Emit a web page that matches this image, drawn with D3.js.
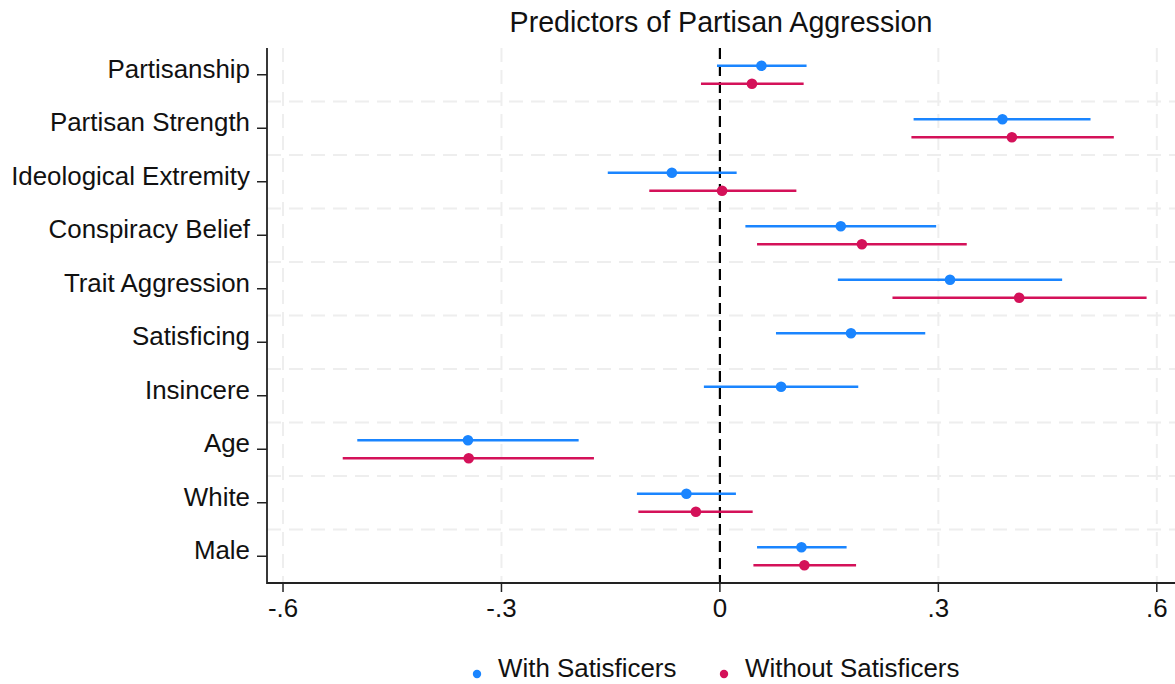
<!DOCTYPE html>
<html>
<head>
<meta charset="utf-8">
<script src="https://cdn.jsdelivr.net/npm/d3@7"></script>
<style>
  html, body { margin: 0; padding: 0; background: #fff; }
  svg { display: block; font-family: "Liberation Sans", Arial, sans-serif; }
</style>
</head>
<body>
<div id="chart"></div>
<script>
// Predictors (top to bottom)
const predictors = ['Partisanship', 'Partisan Strength', 'Ideological Extremity', 'Conspiracy Belief',
  'Trait Aggression', 'Satisficing', 'Insincere', 'Age', 'White', 'Male'];

// With Satisficers: estimate, lower CI, upper CI
const withEst = [0.057, 0.388, -0.066, 0.166, 0.316, 0.180, 0.084, -0.346, -0.046, 0.112];
const withLo  = [-0.004, 0.266, -0.154, 0.035, 0.162, 0.077, -0.022, -0.498, -0.114, 0.051];
const withHi  = [0.119, 0.509, 0.023, 0.297, 0.470, 0.282, 0.190, -0.194, 0.022, 0.174];

// Without Satisficers (no Satisficing / Insincere terms)
const withoutEst = [0.044, 0.401, 0.003, 0.195, 0.411, null, null, -0.345, -0.033, 0.116];
const withoutLo  = [-0.026, 0.263, -0.097, 0.051, 0.237, null, null, -0.518, -0.112, 0.046];
const withoutHi  = [0.115, 0.541, 0.105, 0.339, 0.586, null, null, -0.173, 0.045, 0.187];

const xTicks = [-0.6, -0.3, 0, 0.3, 0.6];
const xTickLabels = ['-.6', '-.3', '0', '.3', '.6'];

const seriesNames = ['With Satisficers', 'Without Satisficers'];
const seriesColors = ['#1a85ff', '#d41159'];

const width = 1175, height = 684;
const plot = { left: 267, right: 1175, top: 48, bottom: 583 };

const svg = d3.select('#chart').append('svg')
  .attr('width', width)
  .attr('height', height);

const x = d3.scaleLinear()
  .domain([-0.622, 0.625])
  .range([plot.left, plot.right]);

const y = d3.scaleBand()
  .domain(predictors)
  .range([plot.top, plot.bottom]);

const offset = 9;

// Grid
const grid = svg.append('g');
grid.selectAll('line.hgrid')
  .data(predictors.slice(1))
  .join('line')
  .attr('x1', plot.left).attr('x2', plot.right)
  .attr('y1', d => y(d)).attr('y2', d => y(d))
  .attr('stroke', '#eeeeee')
  .attr('stroke-width', 2)
  .attr('stroke-dasharray', '14 8');

grid.selectAll('line.vgrid')
  .data(xTicks.filter(d => d !== 0))
  .join('line')
  .attr('x1', d => x(d)).attr('x2', d => x(d))
  .attr('y1', plot.top).attr('y2', plot.bottom)
  .attr('stroke', '#eeeeee')
  .attr('stroke-width', 2)
  .attr('stroke-dasharray', '14 8');

// Zero reference line
svg.append('line')
  .attr('x1', x(0)).attr('x2', x(0))
  .attr('y1', plot.top).attr('y2', plot.bottom)
  .attr('stroke', '#000')
  .attr('stroke-width', 2.2)
  .attr('stroke-dasharray', '11 6');

// Series
const series = [
  { est: withEst, lo: withLo, hi: withHi, dy: -offset },
  { est: withoutEst, lo: withoutLo, hi: withoutHi, dy: offset }
];

series.forEach((s, si) => {
  const rows = predictors.map((p, i) => ({ p, est: s.est[i], lo: s.lo[i], hi: s.hi[i] }))
    .filter(d => d.est !== null);
  const g = svg.append('g');
  g.selectAll('line')
    .data(rows)
    .join('line')
    .attr('x1', d => x(d.lo)).attr('x2', d => x(d.hi))
    .attr('y1', d => y(d.p) + y.bandwidth() / 2 + s.dy)
    .attr('y2', d => y(d.p) + y.bandwidth() / 2 + s.dy)
    .attr('stroke', seriesColors[si])
    .attr('stroke-width', 2.3);
  g.selectAll('circle')
    .data(rows)
    .join('circle')
    .attr('cx', d => x(d.est))
    .attr('cy', d => y(d.p) + y.bandwidth() / 2 + s.dy)
    .attr('r', 5.3)
    .attr('fill', seriesColors[si]);
});

// Axes
const axisColor = '#222';
svg.append('line')
  .attr('x1', plot.left).attr('x2', plot.left)
  .attr('y1', plot.top).attr('y2', plot.bottom + 1)
  .attr('stroke', axisColor).attr('stroke-width', 1.8);
svg.append('line')
  .attr('x1', plot.left).attr('x2', plot.right)
  .attr('y1', plot.bottom).attr('y2', plot.bottom)
  .attr('stroke', axisColor).attr('stroke-width', 1.8);

// Y ticks and labels
const yAxis = svg.append('g');
yAxis.selectAll('line')
  .data(predictors)
  .join('line')
  .attr('x1', plot.left - 10).attr('x2', plot.left)
  .attr('y1', d => y(d) + y.bandwidth() / 2)
  .attr('y2', d => y(d) + y.bandwidth() / 2)
  .attr('stroke', axisColor).attr('stroke-width', 1.5);
yAxis.selectAll('text')
  .data(predictors)
  .join('text')
  .attr('x', plot.left - 17)
  .attr('y', d => y(d) + y.bandwidth() / 2 + 3)
  .attr('text-anchor', 'end')
  .attr('font-size', 25.9)
  .attr('fill', '#111')
  .text(d => d);

// X ticks and labels
const xAxis = svg.append('g');
xAxis.selectAll('line')
  .data(xTicks)
  .join('line')
  .attr('x1', d => x(d)).attr('x2', d => x(d))
  .attr('y1', plot.bottom).attr('y2', plot.bottom + 9)
  .attr('stroke', axisColor).attr('stroke-width', 1.5);
xAxis.selectAll('text')
  .data(xTicks)
  .join('text')
  .attr('x', d => x(d))
  .attr('y', 617)
  .attr('text-anchor', 'middle')
  .attr('font-size', 25.9)
  .attr('fill', '#111')
  .text((d, i) => xTickLabels[i]);

// Title
svg.append('text')
  .attr('x', (plot.left + plot.right) / 2)
  .attr('y', 32)
  .attr('text-anchor', 'middle')
  .attr('font-size', 28.6)
  .attr('fill', '#111')
  .text('Predictors of Partisan Aggression');

// Legend
const legendX = [477, 724];
const legend = svg.append('g');
seriesNames.forEach((name, i) => {
  legend.append('circle')
    .attr('cx', legendX[i]).attr('cy', 674)
    .attr('r', 4.2)
    .attr('fill', seriesColors[i]);
  legend.append('text')
    .attr('x', legendX[i] + 21)
    .attr('y', 677)
    .attr('font-size', 25.9)
    .attr('fill', '#111')
    .text(name);
});
</script>
</body>
</html>
